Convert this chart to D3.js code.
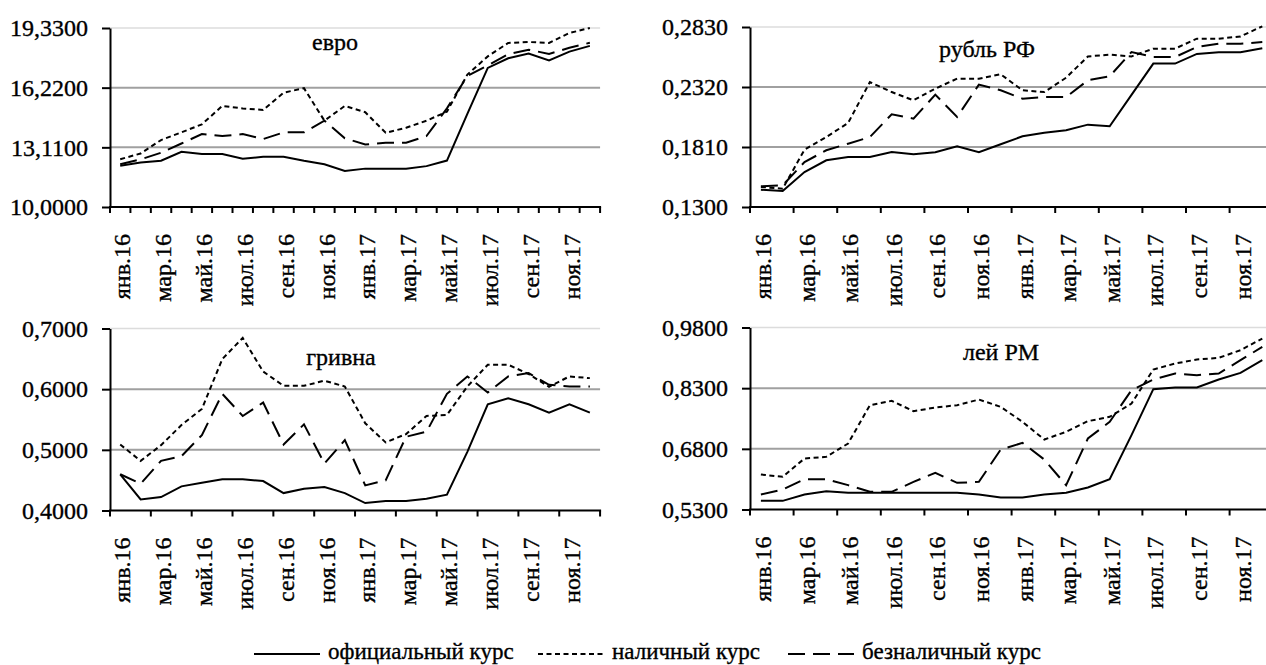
<!DOCTYPE html>
<html>
<head>
<meta charset="utf-8">
<script src="https://cdn.jsdelivr.net/npm/d3@7"></script>
<style>
body { margin: 0; background: #fff; }
svg { display: block; }
svg text { font-family: 'Liberation Serif', 'DejaVu Serif', serif !important; fill: #000; stroke: #000; stroke-width: 0.35px; }
</style>
</head>
<body>
<svg width="1266" height="665"></svg>
<script>
// months on the category axis
var months = ["янв.16","фев.16","мар.16","апр.16","май.16","июн.16","июл.16","авг.16","сен.16","окт.16","ноя.16","дек.16",
              "янв.17","фев.17","мар.17","апр.17","май.17","июн.17","июл.17","авг.17","сен.17","окт.17","ноя.17","дек.17"];

var seriesNames = ["официальный курс", "наличный курс", "безналичный курс"];

// евро
var euroOfficial = [12.15,12.32,12.41,12.88,12.76,12.76,12.51,12.62,12.62,12.41,12.23,11.88,12.00,12.00,12.00,12.13,12.42,14.85,17.25,17.75,18.00,17.64,18.10,18.40];
var euroCash     = [12.49,12.79,13.49,13.89,14.31,15.27,15.14,15.06,15.96,16.19,14.50,15.27,14.94,13.87,14.13,14.50,14.97,16.90,17.85,18.55,18.60,18.55,19.07,19.33];
var euroNoncash  = [12.23,12.48,12.83,13.31,13.80,13.70,13.80,13.54,13.89,13.89,14.50,13.58,13.26,13.35,13.35,13.70,15.14,16.83,17.38,17.96,18.20,17.98,18.30,18.56];
var euroTicks = [10, 13.11, 16.22, 19.33];

// рубль РФ
var rubOfficial = [0.1447,0.1436,0.1597,0.1697,0.1725,0.1725,0.1767,0.1748,0.1765,0.1816,0.1765,0.1833,0.1901,0.1932,0.1952,0.2000,0.1986,0.2253,0.2519,0.2519,0.2601,0.2615,0.2615,0.2649];
var rubCash     = [0.1470,0.1456,0.1787,0.1895,0.2014,0.2362,0.2277,0.2207,0.2306,0.2391,0.2391,0.2428,0.2292,0.2277,0.2399,0.2580,0.2595,0.2580,0.2646,0.2646,0.2731,0.2731,0.2750,0.2836];
var rubNoncash  = [0.1476,0.1484,0.1682,0.1782,0.1838,0.1895,0.2088,0.2051,0.2255,0.2065,0.2340,0.2292,0.2221,0.2235,0.2235,0.2377,0.2411,0.2617,0.2575,0.2575,0.2660,0.2688,0.2688,0.2702];
var rubTicks = [0.13, 0.181, 0.232, 0.283];

// гривна
var hrnOfficial = [0.4597,0.4182,0.4221,0.4398,0.4459,0.4514,0.4514,0.4486,0.4287,0.4359,0.4387,0.4287,0.4122,0.4155,0.4155,0.4193,0.4260,0.4967,0.5751,0.5851,0.5751,0.5613,0.5751,0.5613];
var hrnCash     = [0.5088,0.4818,0.5077,0.5409,0.5674,0.6497,0.6845,0.6290,0.6055,0.6055,0.6140,0.6044,0.5437,0.5122,0.5260,0.5558,0.5575,0.6044,0.6403,0.6403,0.6250,0.6040,0.6210,0.6182];
var hrnNoncash  = [0.4597,0.4442,0.4818,0.4895,0.5243,0.5923,0.5558,0.5779,0.5088,0.5420,0.4774,0.5160,0.4414,0.4497,0.5216,0.5298,0.5923,0.6210,0.5945,0.6210,0.6265,0.6072,0.6044,0.6044];
var hrnTicks = [0.4, 0.5, 0.6, 0.7];

// лей РМ
var leiOfficial = [0.5514,0.5514,0.5671,0.5753,0.5712,0.5712,0.5712,0.5712,0.5712,0.5712,0.5671,0.5597,0.5597,0.5671,0.5712,0.5844,0.6050,0.7138,0.8275,0.8316,0.8316,0.8514,0.8679,0.8992];
var leiCash     = [0.6165,0.6108,0.6561,0.6602,0.6932,0.7879,0.7986,0.7731,0.7821,0.7879,0.8019,0.7838,0.7467,0.7030,0.7220,0.7484,0.7591,0.7920,0.8761,0.8909,0.9008,0.9049,0.9239,0.9527];
var leiNoncash  = [0.5671,0.5794,0.6050,0.6050,0.5902,0.5737,0.5737,0.5984,0.6206,0.5959,0.5984,0.6783,0.6948,0.6536,0.5902,0.7055,0.7467,0.8250,0.8514,0.8662,0.8621,0.8662,0.8992,0.9322];
var leiTicks = [0.53, 0.68, 0.83, 0.98];

var svg = d3.select("svg");
var serif = "'Liberation Serif', 'DejaVu Serif', serif";

// line styles: solid, short dashes, long dashes
var dashes = [null, "5,3.5", "17,8"];

var panels = [
  {title: "евро",     data: [euroOfficial, euroCash, euroNoncash], ticks: euroTicks,
   left: 110, cw: 20.42, top: 28,  bottom: 207, tickEvery: 1, tx: 335,  ty: 50},
  {title: "рубль РФ", data: [rubOfficial, rubCash, rubNoncash],    ticks: rubTicks,
   left: 750, cw: 21.8,  top: 27,  bottom: 207, tickEvery: 2, tx: 987,  ty: 57},
  {title: "гривна",   data: [hrnOfficial, hrnCash, hrnNoncash],    ticks: hrnTicks,
   left: 110, cw: 20.42, top: 328.5, bottom: 510.5, tickEvery: 2, tx: 341, ty: 365},
  {title: "лей РМ",   data: [leiOfficial, leiCash, leiNoncash],    ticks: leiTicks,
   left: 750, cw: 21.8,  top: 327.5, bottom: 509.5, tickEvery: 2, tx: 1001, ty: 360}
];

function fmt(d) { return d.toFixed(4).replace(".", ","); }

panels.forEach(function(p) {
  var x = d3.scaleBand().domain(months).range([p.left, p.left + p.cw * months.length]).padding(0);
  var y = d3.scaleLinear().domain([p.ticks[0], p.ticks[p.ticks.length - 1]]).range([p.bottom, p.top]);
  var g = svg.append("g");
  var x1 = x.range()[1];

  // gridlines (top one is lighter)
  g.selectAll(".grid")
    .data(p.ticks.slice(1))
    .enter().append("line")
    .attr("x1", p.left).attr("x2", x1)
    .attr("y1", function(d) { return y(d); })
    .attr("y2", function(d) { return y(d); })
    .attr("stroke", function(d, i) { return i == p.ticks.length - 2 ? "#dcdcdc" : "#a0a0a0"; })
    .attr("stroke-width", function(d, i) { return i == p.ticks.length - 2 ? 1.5 : 2; });

  // series
  var line = d3.line()
    .x(function(d, i) { return x(months[i]) + x.bandwidth() / 2; })
    .y(function(d) { return y(d); });

  p.data.forEach(function(s, k) {
    g.append("path")
      .datum(s)
      .attr("d", line)
      .attr("fill", "none")
      .attr("stroke", "#000")
      .attr("stroke-width", 2)
      .attr("stroke-dasharray", dashes[k]);
  });

  // y axis
  var ya = g.append("g")
    .attr("transform", "translate(" + p.left + ",0)")
    .call(d3.axisLeft(y).tickValues(p.ticks).tickFormat(fmt).tickSize(8).tickSizeOuter(0).tickPadding(14));
  ya.attr("font-family", serif).attr("font-size", 24);
  ya.select(".domain").attr("stroke-width", 2);
  ya.selectAll(".tick line").attr("stroke-width", 2);
  ya.selectAll("text").style("font-family", serif).style("font-size", "24px");

  // x axis: ticks between categories
  g.append("line")
    .attr("x1", p.left - 1).attr("x2", x1 + 1)
    .attr("y1", p.bottom).attr("y2", p.bottom)
    .attr("stroke", "#000").attr("stroke-width", 2);

  var tickPos = months.map(function(m) { return x(m); }).concat([x1])
    .filter(function(d, i) { return i % p.tickEvery == 0; });
  g.selectAll(".xt")
    .data(tickPos)
    .enter().append("line")
    .attr("x1", function(d) { return d; }).attr("x2", function(d) { return d; })
    .attr("y1", p.bottom).attr("y2", p.bottom + 6)
    .attr("stroke", "#000").attr("stroke-width", 2);

  g.selectAll(".xl")
    .data(months.filter(function(m, i) { return i % 2 == 0; }))
    .enter().append("text")
    .attr("transform", function(d) {
      return "translate(" + (x(d) + x.bandwidth() / 2) + "," + (p.bottom + 27) + ") rotate(-90)";
    })
    .attr("dy", "0.42em")
    .attr("text-anchor", "end")
    .style("font-family", serif)
    .style("font-size", "24px")
    .text(function(d) { return d; });

  // title
  g.append("text")
    .attr("x", p.tx).attr("y", p.ty)
    .attr("text-anchor", "middle")
    .style("font-family", serif)
    .style("font-size", "24px")
    .text(p.title);
});

// legend
var legendX = [254, 538, 788];
var lg = svg.append("g").attr("transform", "translate(0,654)");
seriesNames.forEach(function(name, k) {
  lg.append("line")
    .attr("x1", legendX[k]).attr("x2", legendX[k] + 66)
    .attr("y1", 0).attr("y2", 0)
    .attr("stroke", "#000").attr("stroke-width", 2)
    .attr("stroke-dasharray", dashes[k]);
  lg.append("text")
    .attr("x", legendX[k] + 74).attr("y", 5)
    .style("font-family", serif)
    .style("font-size", "23px")
    .text(name);
});
</script>
</body>
</html>
